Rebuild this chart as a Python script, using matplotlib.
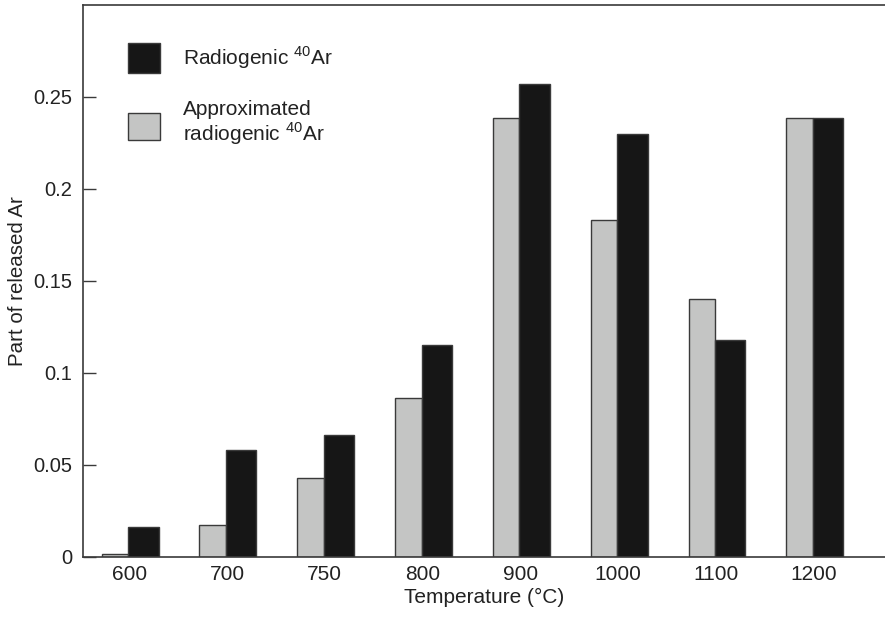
import numpy as np
from matplotlib import pyplot as plt
from matplotlib.patches import Rectangle

plt.rcParams['font.family'] = ['Liberation Sans', 'DejaVu Sans']
plt.rcParams['mathtext.fontset'] = 'custom'
plt.rcParams['mathtext.rm'] = 'Liberation Sans'

temperatures = ['600', '700', '750', '800', '900', '1000', '1100', '1200']
approximated = [0.0015, 0.0174, 0.0425, 0.086, 0.2383, 0.1831, 0.140, 0.2385]
radiogenic = [0.0163, 0.0582, 0.066, 0.1148, 0.2571, 0.2298, 0.118, 0.2385]

grey = '#c4c5c4'
black = '#161616'
edge = '#3a3a3a'
txt = '#222222'

fig = plt.figure(figsize=(8.85, 6.18), dpi=100)
ax = fig.add_axes([0.0941, 0.0992, 0.9059, 0.8932])

x = np.arange(len(temperatures))
ax.bar(x, approximated, width=-0.272, align='edge', color=grey,
       edgecolor=edge, linewidth=1.0)
ax.bar(x, radiogenic, width=0.31, align='edge', color=black,
       edgecolor=edge, linewidth=1.0)

ax.set_xlim(-0.46, 7.737)
ax.set_ylim(0, 0.3)
ax.set_xticks(x + 0.01)
ax.set_xticklabels(temperatures)
ax.set_yticks([0, 0.05, 0.1, 0.15, 0.2, 0.25])
ax.set_yticklabels(['0', '0.05', '0.1', '0.15', '0.2', '0.25'])
ax.tick_params(axis='x', length=0, pad=6, labelsize=15, colors=txt)
ax.tick_params(axis='y', direction='in', length=9.5, width=1.0, pad=8,
               labelsize=14.5, color=edge, labelcolor=txt)

for side in ['left', 'top', 'bottom']:
    ax.spines[side].set_color(edge)
    ax.spines[side].set_linewidth(1.2)
ax.spines['right'].set_visible(False)

ax.set_xlabel('Temperature (°C)', fontsize=15, color=txt, labelpad=3)
ax.set_ylabel('Part of released Ar', fontsize=14.8, color=txt)
ax.yaxis.set_label_coords(-0.070, 0.5)

# legend drawn by hand
ax.add_patch(Rectangle((0.0558, 0.876), 0.040, 0.0543, transform=ax.transAxes,
                       facecolor=black, edgecolor=edge, linewidth=1.0, clip_on=False))
ax.add_patch(Rectangle((0.0558, 0.755), 0.040, 0.0490, transform=ax.transAxes,
                       facecolor=grey, edgecolor=edge, linewidth=1.0, clip_on=False))
ax.text(0.1244, 0.9034, 'Radiogenic $^{40}$Ar', transform=ax.transAxes,
        fontsize=15, va='center', ha='left', color=txt)
ax.text(0.1244, 0.7848, 'Approximated\nradiogenic $^{40}$Ar', transform=ax.transAxes,
        fontsize=15, va='center', ha='left', color=txt, linespacing=1.05)

fig.savefig('out.png', dpi=100)
